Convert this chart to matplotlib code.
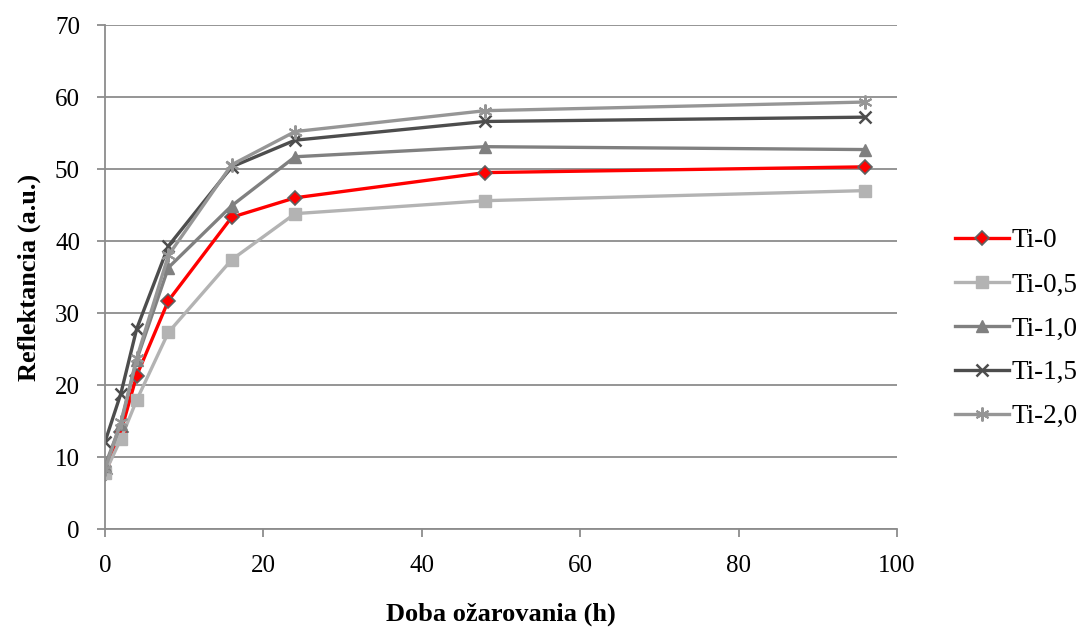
import numpy as np
import matplotlib.pyplot as plt

plt.rcParams['font.family'] = ['Liberation Serif', 'DejaVu Serif']

hours = [0, 2, 4, 8, 16, 24, 48, 96]
ti_0 = [7.6, 13.5, 21.3, 31.7, 43.3, 46.0, 49.5, 50.3]
ti_05 = [7.8, 12.5, 17.9, 27.3, 37.4, 43.8, 45.6, 47.0]
ti_10 = [8.8, 14.6, 23.5, 36.3, 44.9, 51.7, 53.1, 52.7]
ti_15 = [12.1, 18.8, 27.8, 39.3, 50.3, 54.0, 56.6, 57.2]
ti_20 = [8.3, 14.8, 23.7, 38.0, 50.6, 55.2, 58.1, 59.3]
labels = ["Ti-0", "Ti-0,5", "Ti-1,0", "Ti-1,5", "Ti-2,0"]

fig = plt.figure(figsize=(10.86, 6.34), dpi=100)
ax = fig.add_axes([105/1086, 1-529/634, 792/1086, 504/634])

ax.plot(hours, ti_0, color='#FF0000', lw=2.4, marker='D', ms=7,
        mfc='#FF0000', mec='#606060', mew=1.2, label=labels[0])
ax.plot(hours, ti_05, color='#B3B3B3', lw=2.4, marker='s', ms=8,
        mfc='#B3B3B3', mec='#B3B3B3', label=labels[1])
ax.plot(hours, ti_10, color='#808080', lw=2.4, marker='^', ms=9,
        mfc='#808080', mec='#808080', label=labels[2])
ax.plot(hours, ti_15, color='#4D4D4D', lw=2.4, marker='x', ms=9,
        mew=1.8, label=labels[3])
ax.plot(hours, ti_20, color='#969696', lw=2.4, marker=(6, 2, 0), ms=10,
        mew=1.5, label=labels[4])

ax.set_xlim(0, 100)
ax.set_ylim(0, 70)
ax.set_xticks(np.arange(0, 101, 20))
ax.set_yticks(np.arange(0, 71, 10))
ax.yaxis.grid(True, color='#8C8C8C', lw=1.3)
ax.set_axisbelow(True)
for s in ['top', 'right']:
    ax.spines[s].set_visible(False)
for s in ['left', 'bottom']:
    ax.spines[s].set_color('#8C8C8C')
    ax.spines[s].set_linewidth(1.3)
ax.tick_params(axis='both', labelsize=18, color='#8C8C8C', width=1.3,
               length=6, direction='out')
ax.tick_params(axis='x', pad=13)
ax.tick_params(axis='y', pad=12)
ax.set_xlabel("Doba ožarovania (h)", fontsize=19, fontweight='bold', labelpad=18)
ax.set_ylabel("Reflektancia (a.u.)", fontsize=19, fontweight='bold', labelpad=10)

ax.legend(loc='center left', bbox_to_anchor=(1.073, 0.397), frameon=False,
          fontsize=19.5, handlelength=2.0, labelspacing=0.7, handletextpad=0.08,
          borderpad=0, borderaxespad=0)

fig.savefig('out.png', dpi=100)
